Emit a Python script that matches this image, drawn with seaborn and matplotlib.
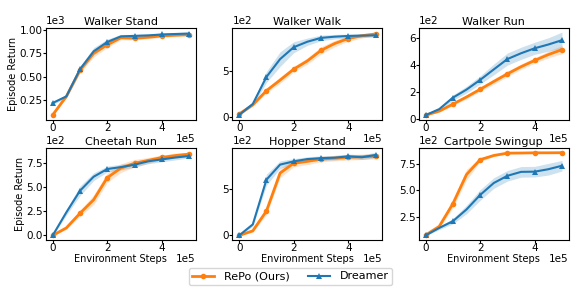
import numpy as np
import matplotlib
matplotlib.use("Agg")
import matplotlib.pyplot as plt
from matplotlib.ticker import MultipleLocator
import seaborn as sns

steps = [0, 50000, 100000, 150000, 200000, 250000, 300000, 350000, 400000, 450000, 500000]

titles = ["Walker Stand", "Walker Walk", "Walker Run",
          "Cheetah Run", "Hopper Stand", "Cartpole Swingup"]

repo_walker_stand = [93, 290, 570, 750, 840, 915, 910, 920, 935, 942, 948]
dreamer_walker_stand = [220, 290, 580, 770, 870, 930, 935, 940, 950, 955, 960]
repo_walker_stand_sd = [10, 15, 30, 40, 30, 20, 20, 15, 15, 15, 15]
dreamer_walker_stand_sd = [15, 20, 30, 40, 30, 20, 15, 15, 15, 15, 15]

repo_walker_walk = [30, 130, 285, 400, 520, 610, 725, 800, 855, 885, 905]
dreamer_walker_walk = [20, 140, 435, 630, 760, 820, 862, 875, 883, 887, 890]
repo_walker_walk_sd = [10, 15, 25, 35, 30, 35, 40, 35, 30, 25, 20]
dreamer_walker_walk_sd = [10, 20, 60, 80, 60, 40, 30, 25, 20, 20, 20]

repo_walker_run = [30, 60, 112, 165, 222, 280, 337, 390, 437, 480, 517]
dreamer_walker_run = [30, 75, 160, 220, 292, 370, 447, 490, 527, 555, 587]
repo_walker_run_sd = [5, 8, 10, 15, 15, 20, 20, 20, 20, 25, 30]
dreamer_walker_run_sd = [5, 10, 20, 25, 30, 40, 45, 45, 45, 50, 60]

repo_cheetah_run = [0, 78, 230, 370, 600, 700, 750, 780, 810, 830, 845]
dreamer_cheetah_run = [0, 240, 464, 610, 690, 710, 735, 770, 790, 810, 825]
repo_cheetah_run_sd = [5, 15, 30, 50, 50, 45, 40, 30, 25, 25, 20]
dreamer_cheetah_run_sd = [5, 30, 50, 40, 30, 30, 25, 25, 25, 25, 20]

repo_hopper_stand = [0, 50, 265, 678, 785, 805, 830, 840, 850, 855, 860]
dreamer_hopper_stand = [0, 120, 606, 770, 805, 830, 840, 845, 860, 850, 875]
repo_hopper_stand_sd = [5, 15, 40, 50, 40, 35, 30, 30, 30, 30, 30]
dreamer_hopper_stand_sd = [5, 20, 60, 40, 30, 25, 25, 25, 25, 25, 30]

repo_cartpole = [78, 160, 374, 650, 790, 830, 852, 853, 855, 855, 856]
dreamer_cartpole = [75, 145, 209, 320, 457, 570, 638, 675, 677, 700, 733]
repo_cartpole_sd = [5, 15, 40, 50, 20, 10, 6, 5, 5, 5, 5]
dreamer_cartpole_sd = [5, 15, 25, 40, 50, 50, 50, 50, 50, 55, 50]

repo_means = [repo_walker_stand, repo_walker_walk, repo_walker_run,
              repo_cheetah_run, repo_hopper_stand, repo_cartpole]
dreamer_means = [dreamer_walker_stand, dreamer_walker_walk, dreamer_walker_run,
                 dreamer_cheetah_run, dreamer_hopper_stand, dreamer_cartpole]
repo_sds = [repo_walker_stand_sd, repo_walker_walk_sd, repo_walker_run_sd,
            repo_cheetah_run_sd, repo_hopper_stand_sd, repo_cartpole_sd]
dreamer_sds = [dreamer_walker_stand_sd, dreamer_walker_walk_sd, dreamer_walker_run_sd,
               dreamer_cheetah_run_sd, dreamer_hopper_stand_sd, dreamer_cartpole_sd]
y_steps = [250, 500, 200, 250, 500, 250]

ORANGE = "#ff7f0e"
BLUE = "#1f77b4"

fig, axes = plt.subplots(2, 3, figsize=(5.81, 2.91), dpi=100)
plt.subplots_adjust(left=0.079, right=0.979, top=0.904, bottom=0.175,
                    wspace=0.243, hspace=0.304)

x = np.array(steps, dtype=float)
for i, ax in enumerate(axes.flat):
    for mean, sd, color, marker, lw, lab in [
        (repo_means[i], repo_sds[i], ORANGE, "o", 2.0, "RePo (Ours)"),
        (dreamer_means[i], dreamer_sds[i], BLUE, "^", 1.5, "Dreamer"),
    ]:
        m = np.array(mean, dtype=float)
        s = np.array(sd, dtype=float)
        ax.fill_between(x, m - s, m + s, color=color, alpha=0.22, linewidth=0)
        sns.lineplot(x=x, y=m, ax=ax, color=color, marker=marker, markevery=2,
                     markersize=4, markeredgewidth=0, linewidth=lw, label=lab,
                     legend=False)
    ax.set_title(titles[i], fontsize=8, pad=2)
    ax.yaxis.set_major_locator(MultipleLocator(y_steps[i]))
    ax.xaxis.set_major_locator(MultipleLocator(200000))
    ax.ticklabel_format(style="sci", axis="both", scilimits=(0, 0))
    ax.tick_params(labelsize=7.5, length=2, pad=0.3)
    ax.xaxis.OFFSETTEXTPAD = 0.3
    ax.xaxis.get_offset_text().set_fontsize(7.5)
    ax.yaxis.get_offset_text().set_fontsize(7.5)
    ax.set_xlabel("")
    ax.set_ylabel("")
    lg = ax.get_legend()
    if lg is not None:
        lg.remove()

for r in range(2):
    axes[r, 0].set_ylabel("Episode Return", fontsize=7, labelpad=1)
for c in range(3):
    axes[1, c].set_xlabel("Environment Steps", fontsize=7, labelpad=0.3)

handles, labels = axes[0, 0].get_legend_handles_labels()
fig.legend(handles, labels, loc="center", bbox_to_anchor=(0.5, 0.05), ncol=2,
           fontsize=8, frameon=True, handlelength=2.0, columnspacing=1.6,
           handletextpad=0.9, borderpad=0.3)

fig.savefig("out.png", dpi=100)
